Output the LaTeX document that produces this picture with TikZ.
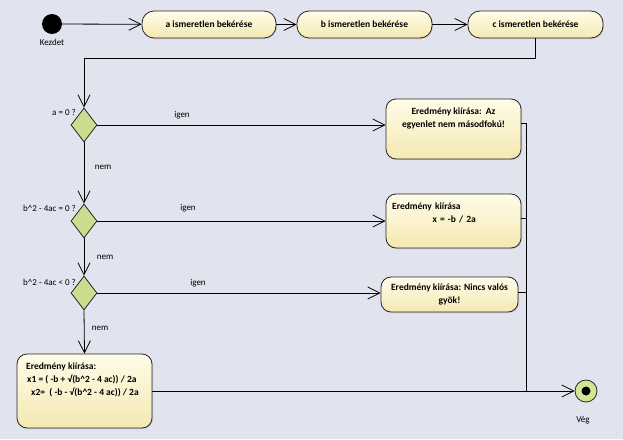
\documentclass[tikz,border=0pt]{standalone}
\usepackage{fontspec}
\setmainfont{Carlito}
\usetikzlibrary{arrows.meta,shapes.geometric,shadows,calc}
\definecolor{bgc}{RGB}{225,228,238}
\definecolor{boxtop}{RGB}{255,252,232}
\definecolor{boxbot}{RGB}{244,233,178}
\definecolor{decfill}{RGB}{202,221,142}
\definecolor{endfill}{RGB}{212,229,150}
\begin{document}
\begin{tikzpicture}[x=1pt,y=-1pt,
  font=\fontsize{9.5}{13}\selectfont,
  arr/.style={draw=black, line width=0.8pt, -{Straight Barb[length=12pt,width=12pt,line width=0.8pt]}},
  ln/.style={draw=black, line width=0.8pt},
  act/.style={draw=black!85, line width=0.8pt, rounded corners=10pt, top color=boxtop, bottom color=boxbot,
    inner sep=0pt, font=\bfseries\fontsize{9.5}{13}\selectfont,
    drop shadow={shadow xshift=1pt,shadow yshift=-1pt,opacity=0.25}},
  btxt/.style={inner sep=0pt, font=\bfseries\fontsize{9.5}{13}\selectfont},
  dec/.style={diamond, draw=black!85, line width=0.8pt, fill=decfill, inner sep=0pt, minimum width=26pt, minimum height=34pt},
  lbl/.style={inner sep=0pt, font=\fontsize{9}{11}\selectfont},
]
\fill[bgc] (0,0) rectangle (623,439);
\useasboundingbox (0,0) rectangle (623,439);

% start / end
\node[circle, fill=black, minimum size=20pt, inner sep=0pt] (start) at (52,24) {};
\node[lbl] (kezdet) at (52,42) {Kezdet};
\node[circle, draw=black!85, line width=0.8pt, fill=endfill, minimum size=22pt, inner sep=0pt,
  path picture={\fill[black] (path picture bounding box.center) circle (4.5pt);}] (end) at (586,391) {};
\node[lbl] (veg) at (583,420) {Vég};

% input actions
\node[act, rounded corners=12pt, minimum width=134pt, minimum height=27pt] (a) at (209,24.5) {a ismeretlen bekérése};
\node[act, rounded corners=12pt, minimum width=135pt, minimum height=27pt] (b) at (364.5,24.5) {b ismeretlen bekérése};
\node[act, rounded corners=12pt, minimum width=135pt, minimum height=27pt] (c) at (535.5,24.5) {c ismeretlen bekérése};

% decisions
\node[dec] (d1) at (84,125) {};
\node[dec] (d2) at (84,221) {};
\node[dec] (d3) at (84,293) {};
\node[lbl, anchor=east] (q1) at (76,112) {a = 0 ?};
\node[lbl, anchor=east] (q2) at (76,208) {b\^{}2 - 4ac = 0 ?};
\node[lbl, anchor=east] (q3) at (76,282) {b\^{}2 - 4ac < 0 ?};

% result actions
\node[act, minimum width=135pt, minimum height=60pt] (r1) at (453.5,129) {};
\node[btxt, anchor=north, align=center] (r1t) at (453.5,108) {Eredmény kiírása:\ \ Az\\egyenlet nem másodfokú!};
\node[act, minimum width=135pt, minimum height=54pt] (r2) at (453.5,221) {};
\node[btxt, anchor=north west, text width=124pt] (r2t) at (392,203) {{\raggedright Eredmény kiírása\par}\centering x = -b / 2a\par};
\node[act, minimum width=137pt, minimum height=35pt, align=center] (r3) at (449.5,294.5) {Eredmény kiírása: Nincs valós\\gyök!};
\node[act, minimum width=135pt, minimum height=74pt] (r4) at (84.5,391) {};
\node[btxt, anchor=north west, align=left] (r4t) at (26,363) {Eredmény kiírása:\\\hspace{1pt}x1 = ( -b + √(b\^{}2 - 4 ac)) / 2a\\\hspace{5pt}x2=\ \ ( -b - √(b\^{}2 - 4 ac)) / 2a};

% labels
\node[lbl] (i1) at (182,115) {igen};
\node[lbl] (i2) at (188,208) {igen};
\node[lbl] (i3) at (198,283) {igen};
\node[lbl] (n1) at (103,167) {nem};
\node[lbl] (n2) at (105,257) {nem};
\node[lbl] (n3) at (100,328) {nem};

% connectors
\draw[arr] (start) -- (a);
\draw[arr] (a) -- (b);
\draw[arr] (b) -- (c);
\coordinate (cturn) at (535.5,58);
\draw[arr] (c.south) -- (cturn) -| (d1.north);
\draw[arr] (d1.east) -- (d1.east -| r1.west);
\draw[arr] (d1.south) -- (d2.north);
\draw[arr] (d2.east) -- (d2.east -| r2.west);
\draw[arr] (d2.south) -- (d3.north);
\draw[arr] (d3.east) -- (d3.east -| r3.west);
\draw[arr] (d3.south) -- (r4.north);

\coordinate (m) at (526,391);
\coordinate (r1o) at (521,123);
\coordinate (r2o) at (521,218);
\coordinate (r3o) at (518,292);
\draw[ln] (r1o) -| (m);
\draw[ln] (r2o) -- (r2o -| m);
\draw[ln] (r3o) -- (r3o -| m);
\draw[arr] (r4.east) -- (end.west);
\end{tikzpicture}
\end{document}
